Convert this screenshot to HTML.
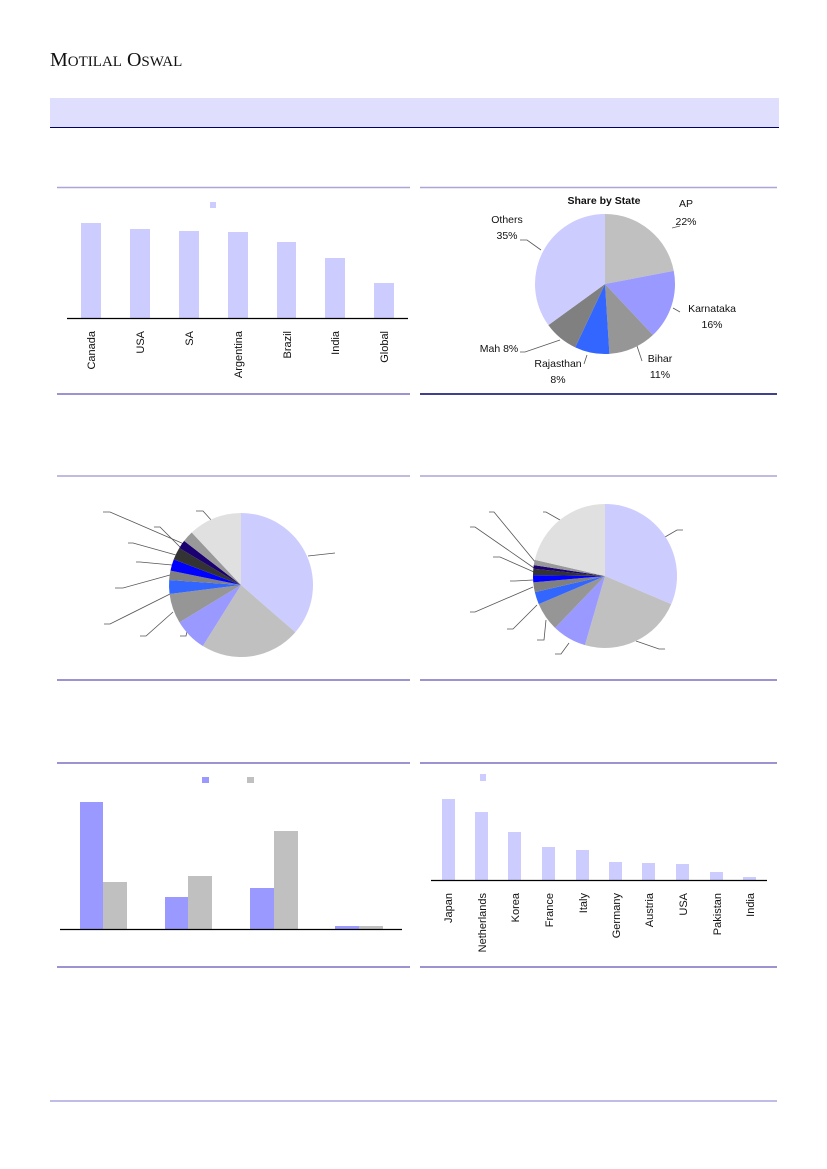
<!DOCTYPE html>
<html><head><meta charset="utf-8"><style>
html,body{margin:0;padding:0;background:#fff;}
svg{display:block;}
text{font-family:"Liberation Sans",sans-serif;}
</style></head><body>
<svg id="s" width="827" height="1169" viewBox="0 0 827 1169" xmlns="http://www.w3.org/2000/svg">
<text x="50" y="66" font-family="Liberation Serif" font-size="20" fill="#111" style="font-family:'Liberation Serif',serif">M<tspan font-size="15">OTILAL</tspan> O<tspan font-size="15">SWAL</tspan></text>
<rect x="50" y="98" width="729" height="29" fill="#dfdffd"/>
<line x1="50" y1="127.5" x2="779" y2="127.5" stroke="#000066" stroke-width="1"/>
<g stroke-width="1.5">
<line x1="57" y1="187.5" x2="410" y2="187.5" stroke="#aaa6d6"/>
<line x1="420" y1="187.5" x2="777" y2="187.5" stroke="#aaa6d6"/>
<line x1="57" y1="394" x2="410" y2="394" stroke="#7a70c0"/>
<line x1="420" y1="394" x2="777" y2="394" stroke="#000066"/>
<line x1="57" y1="476" x2="410" y2="476" stroke="#aaa6d6"/>
<line x1="420" y1="476" x2="777" y2="476" stroke="#aaa6d6"/>
<line x1="57" y1="680" x2="410" y2="680" stroke="#7a70c0"/>
<line x1="420" y1="680" x2="777" y2="680" stroke="#7a70c0"/>
<line x1="57" y1="763" x2="410" y2="763" stroke="#7a70c0"/>
<line x1="420" y1="763" x2="777" y2="763" stroke="#7a70c0"/>
<line x1="57" y1="967" x2="410" y2="967" stroke="#7a70c0"/>
<line x1="420" y1="967" x2="777" y2="967" stroke="#7a70c0"/>
<line x1="50" y1="1101" x2="777" y2="1101" stroke="#aaa6e0"/>
</g>
<!-- chart 1 -->
<g fill="#ccccff">
<rect x="210" y="202" width="6" height="6"/>
<rect x="81" y="223" width="20" height="95"/>
<rect x="130" y="229" width="20" height="89"/>
<rect x="179" y="231" width="20" height="87"/>
<rect x="228" y="232" width="20" height="86"/>
<rect x="277" y="242" width="19" height="76"/>
<rect x="325" y="258" width="20" height="60"/>
<rect x="374" y="283" width="20" height="35"/>
</g>
<line x1="67" y1="318.5" x2="408" y2="318.5" stroke="#000" stroke-width="1.2"/>
<g font-size="11" fill="#111" text-anchor="end">
<text transform="translate(95,331) rotate(-90)">Canada</text>
<text transform="translate(144,331) rotate(-90)">USA</text>
<text transform="translate(193,331) rotate(-90)">SA</text>
<text transform="translate(242,331) rotate(-90)">Argentina</text>
<text transform="translate(291,331) rotate(-90)">Brazil</text>
<text transform="translate(339,331) rotate(-90)">India</text>
<text transform="translate(388,331) rotate(-90)">Global</text>
</g>
<!-- chart 2 labels -->
<g font-size="10.5" fill="#111">
<text x="604" y="204" text-anchor="middle" font-weight="bold">Share by State</text>
<text x="686" y="207" text-anchor="middle">AP</text>
<text x="686" y="225" text-anchor="middle">22%</text>
<text x="712" y="312" text-anchor="middle">Karnataka</text>
<text x="712" y="328" text-anchor="middle">16%</text>
<text x="660" y="362" text-anchor="middle">Bihar</text>
<text x="660" y="378" text-anchor="middle">11%</text>
<text x="558" y="367" text-anchor="middle">Rajasthan</text>
<text x="558" y="383" text-anchor="middle">8%</text>
<text x="499" y="352" text-anchor="middle">Mah 8%</text>
<text x="507" y="223" text-anchor="middle">Others</text>
<text x="507" y="239" text-anchor="middle">35%</text>
</g>
<g fill="none" stroke="#555" stroke-width="0.8">
<polyline points="672,228 680,226"/>
<polyline points="673,308 680,312"/>
<polyline points="636,343 642,361"/>
<polyline points="587,355 584,364"/>
<polyline points="560,340 525,352 520,352"/>
<polyline points="541,250 527,240 520,240"/>
</g>
<!-- chart 5 -->
<rect x="202" y="777" width="7" height="6" fill="#9999ff"/>
<rect x="247" y="777" width="7" height="6" fill="#c0c0c0"/>
<rect x="80" y="802" width="23" height="127" fill="#9999ff"/>
<rect x="103" y="882" width="24" height="47" fill="#c0c0c0"/>
<rect x="165" y="897" width="23" height="32" fill="#9999ff"/>
<rect x="188" y="876" width="24" height="53" fill="#c0c0c0"/>
<rect x="250" y="888" width="24" height="41" fill="#9999ff"/>
<rect x="274" y="831" width="24" height="98" fill="#c0c0c0"/>
<rect x="335" y="926" width="24" height="3" fill="#9999ff"/>
<rect x="359" y="926" width="24" height="3" fill="#c0c0c0"/>
<line x1="60" y1="929.5" x2="402" y2="929.5" stroke="#000" stroke-width="1.2"/>
<!-- chart 6 -->
<g fill="#ccccff">
<rect x="480" y="774" width="6" height="7"/>
<rect x="442" y="799" width="13" height="81"/>
<rect x="475" y="812" width="13" height="68"/>
<rect x="508" y="832" width="13" height="48"/>
<rect x="542" y="847" width="13" height="33"/>
<rect x="576" y="850" width="13" height="30"/>
<rect x="609" y="862" width="13" height="18"/>
<rect x="642" y="863" width="13" height="17"/>
<rect x="676" y="864" width="13" height="16"/>
<rect x="710" y="872" width="13" height="8"/>
<rect x="743" y="877" width="13" height="3"/>
</g>
<line x1="431" y1="880.5" x2="767" y2="880.5" stroke="#000" stroke-width="1.2"/>
<g font-size="11" fill="#111" text-anchor="end">
<text transform="translate(452,893) rotate(-90)">Japan</text>
<text transform="translate(486,893) rotate(-90)">Netherlands</text>
<text transform="translate(519,893) rotate(-90)">Korea</text>
<text transform="translate(553,893) rotate(-90)">France</text>
<text transform="translate(587,893) rotate(-90)">Italy</text>
<text transform="translate(620,893) rotate(-90)">Germany</text>
<text transform="translate(653,893) rotate(-90)">Austria</text>
<text transform="translate(687,893) rotate(-90)">USA</text>
<text transform="translate(721,893) rotate(-90)">Pakistan</text>
<text transform="translate(754,893) rotate(-90)">India</text>
</g>
<!-- leader lines chart 3 -->
<g fill="none" stroke="#555" stroke-width="0.8">
<polyline points="308,556 335,553"/>
<polyline points="190,618 186,636 180,636"/>
<polyline points="173,612 146,636 140,636"/>
<polyline points="170,594 110,624 104,624"/>
<polyline points="170,575 123,588 115,588"/>
<polyline points="172,565 140,562 136,562"/>
<polyline points="176,555 133,543 128,543"/>
<polyline points="180,547 160,527 154,527"/>
<polyline points="184,544 110,512 103,512"/>
<polyline points="212,521 203,511 196,511"/>
<!-- chart 4 -->
<polyline points="665,537 677,530 683,530"/>
<polyline points="636,641 659,649 665,649"/>
<polyline points="569,643 561,654 555,654"/>
<polyline points="546,620 544,640 537,640"/>
<polyline points="537,605 513,629 507,629"/>
<polyline points="533,587 475,612 470,612"/>
<polyline points="533,580 515,581 510,581"/>
<polyline points="534,572 500,557 493,557"/>
<polyline points="534,568 475,527 470,527"/>
<polyline points="536,563 494,512 489,512"/>
<polyline points="560,520 546,512 543,512"/>
</g>
<g id="pies"></g>
</svg>
<script>
function pie(cx,cy,r,parts,cols){
  var g=document.getElementById('pies'),a=0,s='';
  for(var i=0;i<parts.length;i++){
    var a0=a/100*2*Math.PI,a1=(a+parts[i])/100*2*Math.PI;a+=parts[i];
    var x0=cx+r*Math.sin(a0),y0=cy-r*Math.cos(a0),x1=cx+r*Math.sin(a1),y1=cy-r*Math.cos(a1);
    s+='<path d="M'+cx+','+cy+'L'+x0.toFixed(2)+','+y0.toFixed(2)+'A'+r+','+r+' 0 '+(parts[i]>50?1:0)+' 1 '+x1.toFixed(2)+','+y1.toFixed(2)+'Z" fill="'+cols[i]+'"/>';
  }
  g.insertAdjacentHTML('beforeend',s);
}
pie(605,284,70,[22,16,11,8,8,35],['#c0c0c0','#9999ff','#969696','#3366ff','#808080','#ccccff']);
pie(241,585,72,[36.4,22.5,7.4,6.7,3.1,2.1,2.6,2.8,1.9,2.5,12],['#ccccff','#c0c0c0','#9999ff','#969696','#3366ff','#808080','#0000ff','#333333','#1a0070','#999999','#e0e0e0']);
pie(605,576,72,[31.4,23.1,7.7,6.4,2.8,2.2,1.6,1.4,0.8,1.2,21.4],['#ccccff','#c0c0c0','#9999ff','#969696','#3366ff','#808080','#0000ff','#333333','#1a0070','#999999','#e0e0e0']);
</script>
</body></html>
